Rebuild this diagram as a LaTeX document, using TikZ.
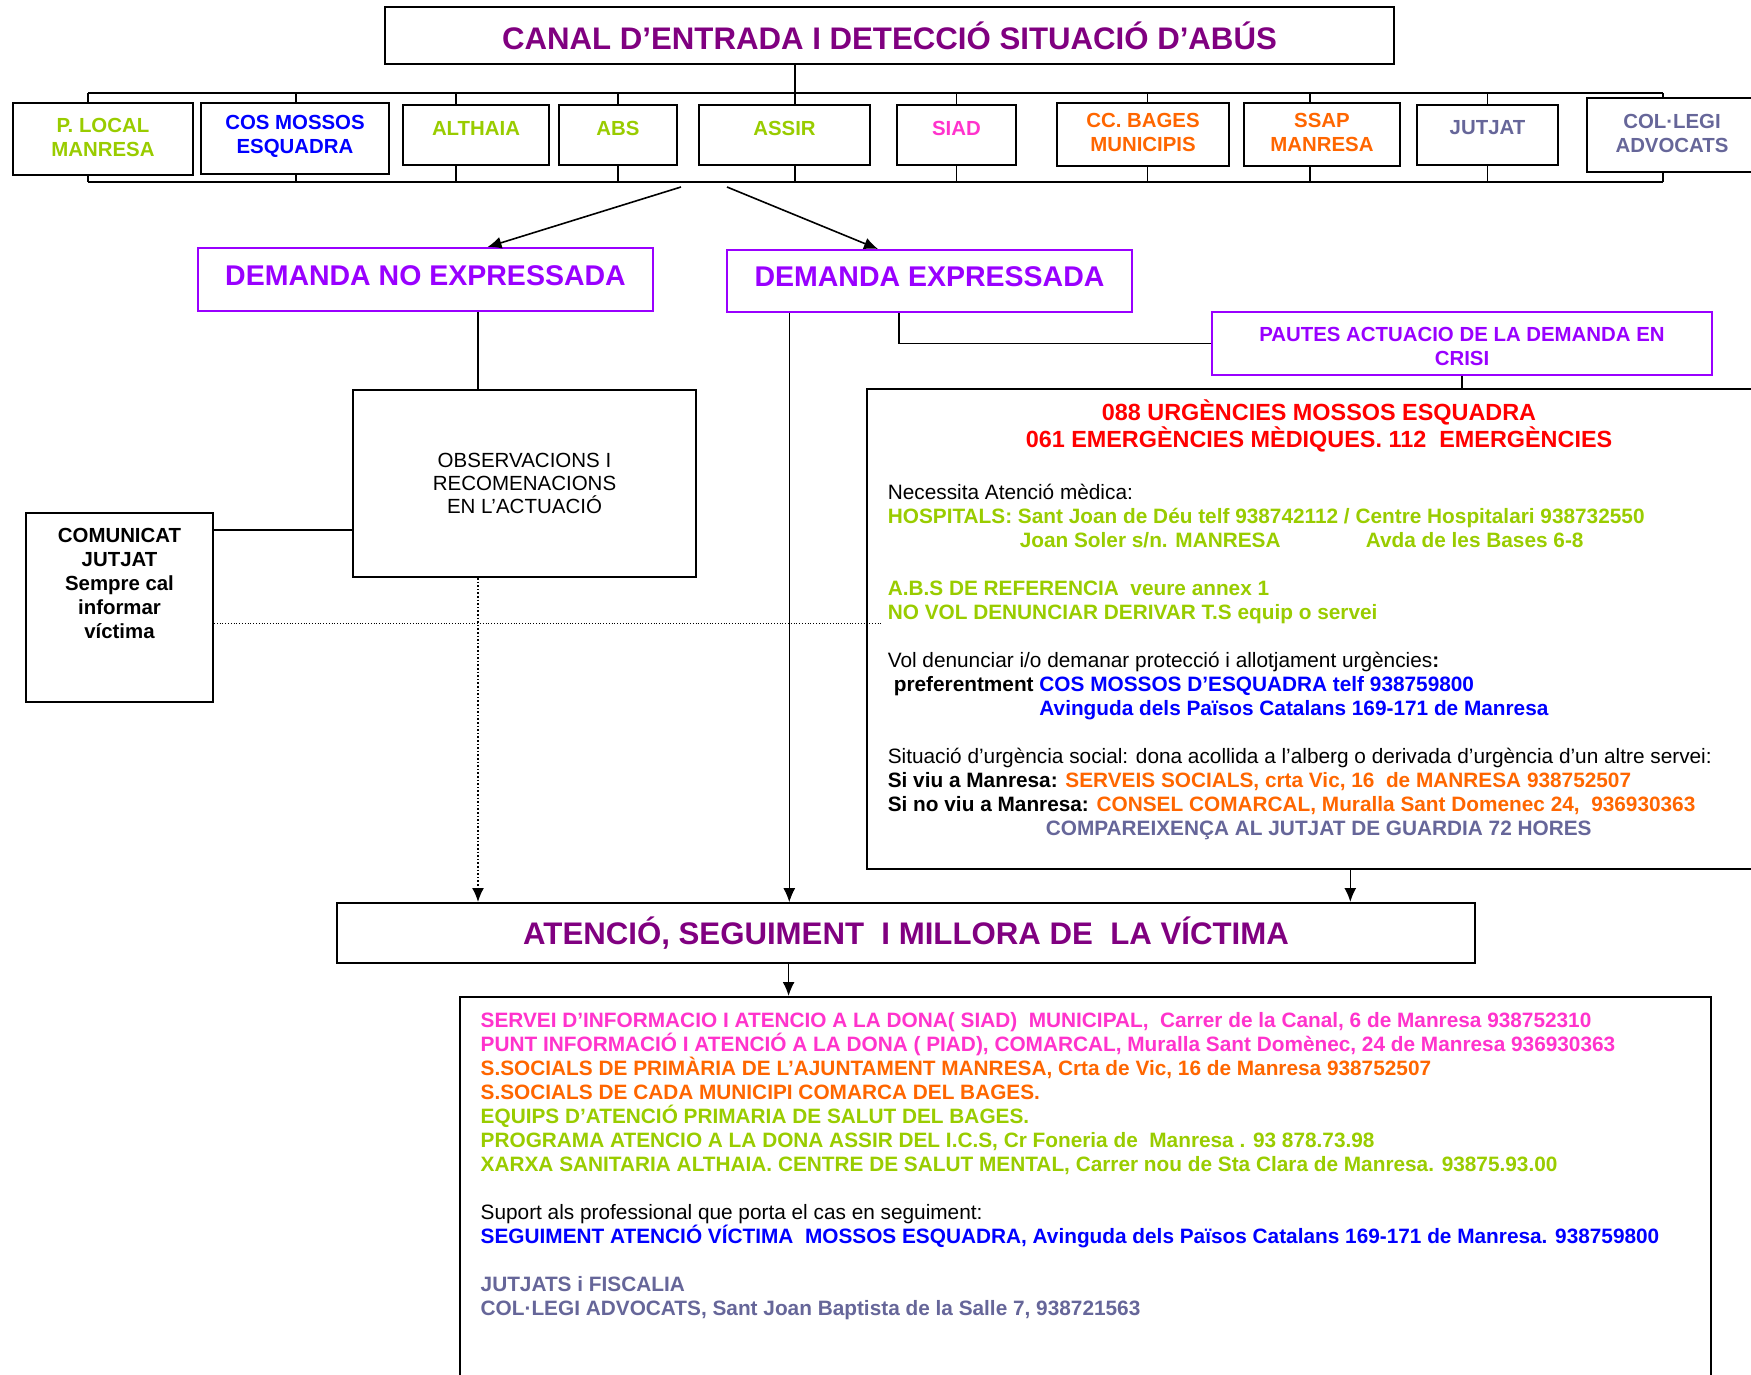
\documentclass[tikz,border=0pt]{standalone}
\usepackage{fontspec}
\setmainfont{Liberation Sans}
\usepackage{xcolor}
\usetikzlibrary{shapes, arrows.meta, calc, positioning, fit}

\definecolor{cgreen}{HTML}{99CC00}
\definecolor{cpink}{HTML}{FF33CC}
\definecolor{corange}{HTML}{FF6600}
\definecolor{cblue}{HTML}{0000FF}
\definecolor{cgray}{HTML}{666699}
\definecolor{cpurple}{HTML}{800080}
\definecolor{cviolet}{HTML}{9900FF}
\definecolor{cred}{HTML}{FF0000}

\begin{document}
\begin{tikzpicture}[x=0.5pt, y=-0.5pt, arrow/.style = {thick,-{Latex[length=7pt,width=6pt]}}]
		\tikzset{box/.style={draw,rectangle,inner sep=0pt,line width=1pt},
			dbox/.style={box,draw=cviolet},
			lbl/.style={inner sep=0pt,align=center,font=\fontsize{10.2}{12}\selectfont\bfseries},
			dem/.style={lbl,text=cviolet,font=\fontsize{14.25}{17}\selectfont\bfseries},
			big/.style={lbl,text=cpurple,font=\fontsize{15.6}{18}\selectfont\bfseries},
			txt/.style={inner sep=0pt,align=left,font=\fontsize{10.4}{12}\selectfont}}
		\useasboundingbox (0,0) rectangle (1751,1375);

		% Canal d'entrada
		\node[box, fit={(385,7) (1394,64)}] (canal) {};
		\node[big] (canaltxt) at (canal) {CANAL D’ENTRADA I DETECCIÓ SITUACIÓ D’ABÚS};

		\coordinate (bustl) at (88,93);
		\coordinate (bustr) at (1663,93);
		\coordinate (busbl) at (88,182);
		\coordinate (busbr) at (1663,182);

		% Serveis
		\node[box, fit={(13,103) (193,175)}] (plocal) {};
		\node[box, fit={(201,103) (389,174)}] (mossos) {};
		\node[box, fit={(403,105) (549,165)}] (althaia) {};
		\node[box, fit={(559,105) (677,165)}] (abs) {};
		\node[box, fit={(699,105) (870,165)}] (assir) {};
		\node[box, fit={(897,105) (1016,165)}] (siad) {};
		\node[box, fit={(1057,103) (1229,166)}] (bages) {};
		\node[box, fit={(1244,103) (1400,166)}] (ssap) {};
		\node[box, fit={(1417,105) (1558,165)}] (jutjat) {};
		\node[box, fit={(1587,98) (1757,172)}] (collegi) {};

		\node[lbl, text=cgreen] (plocaltxt) at ([yshift=1pt]plocal) {P. LOCAL\\MANRESA};
		\node[lbl, text=cblue] (mossostxt) at ([yshift=1pt]mossos) {COS MOSSOS\\ESQUADRA};
		\node[lbl, text=cgreen] (althaiatxt) at ([yshift=3.5pt]althaia) {ALTHAIA};
		\node[lbl, text=cgreen] (abstxt) at ([yshift=3.5pt]abs) {ABS};
		\node[lbl, text=cgreen] (assirtxt) at ([yshift=3.5pt]assir) {ASSIR};
		\node[lbl, text=cpink] (siadtxt) at ([yshift=3.5pt]siad) {SIAD};
		\node[lbl, text=corange] (bagestxt) at ([yshift=1pt]bages) {CC. BAGES\\MUNICIPIS};
		\node[lbl, text=corange] (ssaptxt) at ([yshift=1pt]ssap) {SSAP\\MANRESA};
		\node[lbl, text=cgray] (jutjattxt) at ([yshift=3.5pt]jutjat) {JUTJAT};
		\node[lbl, text=cgray] (collegitxt) at ([yshift=1pt]collegi) {COL·LEGI\\ADVOCATS};

		\draw[thick] (bustl) -- (bustr);
		\draw[thick] (busbl) -- (busbr);
		\draw[thick] ([xshift=-47.25pt]canal.south) -- ([xshift=-47.25pt]canal.south |- bustl);
		\foreach \n/\s in {plocal/-7.5, mossos/0.4, althaia/-10, abs/0, assir/5.2, siad/0, bages/2.3, ssap/-6, jutjat/0, collegi/-4.5}{
			\draw[thick] ([xshift=\s pt]\n.north) -- ([xshift=\s pt]\n.north |- bustl);
			\draw[thick] ([xshift=\s pt]\n.south) -- ([xshift=\s pt]\n.south |- busbl);
		}

		% Demandes
		\node[dbox, fit={(198,248) (653,311)}] (demno) {};
		\node[dem] (demnotxt) at ([yshift=2pt]demno) {DEMANDA NO EXPRESSADA};
		\node[dbox, fit={(727,250) (1132,312)}] (demsi) {};
		\node[dem] (demsitxt) at ([yshift=2pt]demsi) {DEMANDA EXPRESSADA};

		\coordinate (splitl) at (681,187);
		\coordinate (splitr) at (727,187);
		\draw[arrow] (splitl) -- ([xshift=31pt]demno.north);
		\draw[arrow] (splitr) -- ([xshift=-25.75pt]demsi.north);

		% Observacions i comunicat
		\node[box, fit={(353,390) (696,577)}] (observ) {};
		\node[lbl, font=\fontsize{10.25}{11.7}\selectfont] (observtxt) at (observ) {OBSERVACIONS I\\RECOMENACIONS\\EN L’ACTUACIÓ};
		\draw[thick] ([xshift=26.25pt]demno.south) -- ([xshift=26.25pt]demno.south |- observ.north);

		\node[box, fit={(26,513) (213,702)}] (comunicat) {};
		\node[lbl, anchor=base] (comtxt) at (119.5,638.5) {COMUNICAT\\JUTJAT\\Sempre cal\\informar\\víctima};
		\draw[thick] ([yshift=38.75pt]comunicat.east) -- ([yshift=38.75pt]comunicat.east -| observ.west);

		% Pautes
		\node[dbox, fit={(1212,312) (1712,375)}] (pautes) {};
		\node[lbl, text=cviolet] (pautestxt) at ([yshift=-1.4pt]pautes) {PAUTES ACTUACIO DE LA DEMANDA EN\\CRISI};
		\draw[thick] ([xshift=-15.3pt]demsi.south) |- (pautes.west);

		\node[box, fit={(867,389) (1771,869)}] (rbox) {};
		\draw[thick] (pautes.south) -- (pautes.south |- rbox.north);
		\draw[densely dotted, shorten >=-8.5pt] ([yshift=-8pt]comunicat.east) -- ([yshift=-8pt]comunicat.east -| rbox.west);

		\node[lbl, font=\fontsize{11.7}{12.5}\selectfont\bfseries, text=cred, anchor=base] (urgencies) at (1319,447.7) {088 URGÈNCIES MOSSOS ESQUADRA\\061 EMERGÈNCIES MÈDIQUES. 112\ \ EMERGÈNCIES};

		\node[txt, anchor=base west] (crisi) at (887.4,835) {Necessita Atenció mèdica:\\
			\textcolor{cgreen}{\bfseries HOSPITALS: Sant Joan de Déu telf 938742112 / Centre Hospitalari 938732550}\\
			\textcolor{cgreen}{\bfseries\hspace*{66pt}\makebox[173pt][l]{Joan Soler s/n. MANRESA}Avda de les Bases 6-8}\\[12pt]
			\textcolor{cgreen}{\bfseries A.B.S DE REFERENCIA\ \ veure annex 1}\\
			\textcolor{cgreen}{\bfseries NO VOL DENUNCIAR DERIVAR T.S equip o servei}\\[12pt]
			Vol denunciar i/o demanar protecció i allotjament urgències\textbf{:}\\
			\hspace*{3pt}\textbf{preferentment} \textcolor{cblue}{\bfseries COS MOSSOS D’ESQUADRA telf 938759800}\\
			\hspace*{3pt}\textcolor{cblue}{\bfseries\phantom{preferentment }Avinguda dels Països Catalans 169-171 de Manresa}\\[12pt]
			Situació d’urgència social: dona acollida a l’alberg o derivada d’urgència d’un altre servei:\\
			\textbf{Si viu a Manresa:} \textcolor{corange}{\bfseries SERVEIS SOCIALS, crta Vic, 16\ \ de MANRESA 938752507}\\
			\textbf{Si no viu a Manresa:} \textcolor{corange}{\bfseries CONSEL COMARCAL, Muralla Sant Domenec 24,\ \ 936930363}\\
			\hspace*{79pt}\textcolor{cgray}{\bfseries COMPAREIXENÇA AL JUTJAT DE GUARDIA 72 HORES}};

		% Atencio
		\node[box, fit={(337,903) (1475,963)}] (atencio) {};
		\node[big] (atenciotxt) at (atencio) {ATENCIÓ, SEGUIMENT\ \ I MILLORA DE\ \ LA VÍCTIMA};

		\draw[arrow, densely dotted] ([xshift=-23.25pt]observ.south) -- ([xshift=-23.25pt]observ.south |- atencio.north);
		\draw[arrow, thin] ([xshift=-70.1pt]demsi.south) -- ([xshift=-70.1pt]demsi.south |- atencio.north);
		\draw[arrow] ([xshift=15.65pt]rbox.south) -- ([xshift=15.65pt]rbox.south |- atencio.north);

		\node[box, fit={(460,997) (1711,1385)}] (bbox) {};
		\draw[arrow] ([xshift=-58.7pt]atencio.south) -- ([xshift=-58.7pt]atencio.south |- bbox.north);

		\node[txt, anchor=base west] (seguiment) at (480.3,1315.6) {%
			\textcolor{cpink}{\bfseries SERVEI D’INFORMACIO I ATENCIO A LA DONA( SIAD)\ \ MUNICIPAL,\ \ Carrer de la Canal, 6 de Manresa 938752310}\\
			\textcolor{cpink}{\bfseries PUNT INFORMACIÓ I ATENCIÓ A LA DONA ( PIAD), COMARCAL, Muralla Sant Domènec, 24 de Manresa 936930363}\\
			\textcolor{corange}{\bfseries S.SOCIALS DE PRIMÀRIA DE L’AJUNTAMENT MANRESA, Crta de Vic, 16 de Manresa 938752507}\\
			\textcolor{corange}{\bfseries S.SOCIALS DE CADA MUNICIPI COMARCA DEL BAGES.}\\
			\textcolor{cgreen}{\bfseries EQUIPS D’ATENCIÓ PRIMARIA DE SALUT DEL BAGES.}\\
			\textcolor{cgreen}{\bfseries PROGRAMA ATENCIO A LA DONA ASSIR DEL I.C.S, Cr Foneria de\ \ Manresa . 93 878.73.98}\\
			\textcolor{cgreen}{\bfseries XARXA SANITARIA ALTHAIA. CENTRE DE SALUT MENTAL, Carrer nou de Sta Clara de Manresa. 93875.93.00}\\[12pt]
			Suport als professional que porta el cas en seguiment:\\
			\textcolor{cblue}{\bfseries SEGUIMENT ATENCIÓ VÍCTIMA\ \ MOSSOS ESQUADRA, Avinguda dels Països Catalans 169-171 de Manresa. 938759800}\\[12pt]
			\textcolor{cgray}{\bfseries JUTJATS i FISCALIA}\\
			\textcolor{cgray}{\bfseries COL·LEGI ADVOCATS, Sant Joan Baptista de la Salle 7, 938721563}};

	\end{tikzpicture}
\end{document}
